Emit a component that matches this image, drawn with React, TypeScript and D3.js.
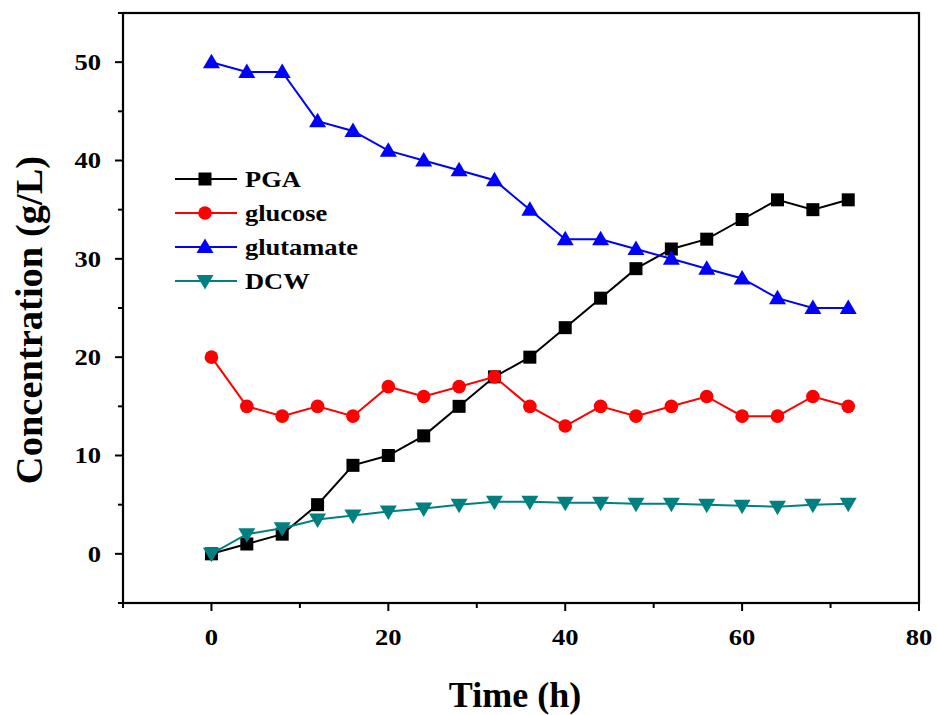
import React from "react";
import * as d3 from "d3";

const times = [0, 4, 8, 12, 16, 20, 24, 28, 32, 36, 40, 44, 48, 52, 56, 60, 64, 68, 72];
const pga = [0, 1, 2, 5, 9, 10, 12, 15, 18, 20, 23, 26, 29, 31, 32, 34, 36, 35, 36];
const glucose = [20, 15, 14, 15, 14, 17, 16, 17, 18, 15, 13, 15, 14, 15, 16, 14, 14, 16, 15];
const glutamate = [50, 49, 49, 44, 43, 41, 40, 39, 38, 35, 32, 32, 31, 30, 29, 28, 26, 25, 25];
const dcw = [0, 2, 2.6, 3.5, 3.9, 4.3, 4.6, 5.0, 5.3, 5.3, 5.2, 5.2, 5.1, 5.1, 5.0, 4.9, 4.8, 5.0, 5.1];

const xTicks = [0, 20, 40, 60, 80];
const xMinor = [-10, 10, 30, 50, 70];
const yTicks = [0, 10, 20, 30, 40, 50];
const yMinor = [-5, 5, 15, 25, 35, 45, 55];

const seriesNames = ["PGA", "glucose", "glutamate", "DCW"];
const seriesColors = ["#000000", "#ff0000", "#0000ff", "#008080"];
const seriesShapes = ["square", "circle", "triangle", "triangleDown"];
const seriesValues = [pga, glucose, glutamate, dcw];

const FONT = "'Liberation Serif', 'Times New Roman', serif";

function Marker({ shape, x, y, color }: { shape: string; x: number; y: number; color: string }) {
  if (shape === "square") return <rect x={x - 6.5} y={y - 6.5} width={13} height={13} fill={color} />;
  if (shape === "circle") return <circle cx={x} cy={y} r={6.8} fill={color} />;
  if (shape === "triangle")
    return <path d={`M${x},${y - 8.5}L${x + 8.5},${y + 6}L${x - 8.5},${y + 6}Z`} fill={color} />;
  return <path d={`M${x},${y + 8.5}L${x + 8.5},${y - 6}L${x - 8.5},${y - 6}Z`} fill={color} />;
}

function SText({ x, y, sx, anchor, size, children, dy }: any) {
  return (
    <text
      transform={`translate(${x},${y}) scale(${sx},1)`}
      textAnchor={anchor}
      dy={dy}
      fontFamily={FONT}
      fontWeight="bold"
      fontSize={size}
    >
      {children}
    </text>
  );
}

export default function App() {
  const W = 937, H = 715;
  const left = 123, right = 919, top = 13, bottom = 603;
  const x = d3.scaleLinear().domain([-10, 80]).range([left, right]);
  const y = d3.scaleLinear().domain([-5, 55]).range([bottom, top]);
  const line = d3.line<[number, number]>().x((d) => x(d[0])).y((d) => y(d[1]));

  return (
    <svg width={W} height={H} style={{ position: "absolute", left: 0, top: 0, background: "#fff" }}>
      <rect width={W} height={H} fill="#fff" />
      <rect x={left} y={top} width={right - left} height={bottom - top} fill="none" stroke="#000" strokeWidth={2.2} />
      {xTicks.map((t) => (
        <g key={"xt" + t}>
          <line x1={x(t)} x2={x(t)} y1={bottom} y2={bottom + 8} stroke="#000" strokeWidth={2} />
          <SText x={x(t)} y={645} sx={1.18} anchor="middle" size={22.5}>
            {t}
          </SText>
        </g>
      ))}
      {xMinor.map((t) => (
        <line key={"xm" + t} x1={x(t)} x2={x(t)} y1={bottom} y2={bottom + 5} stroke="#000" strokeWidth={2} />
      ))}
      {yTicks.map((t) => (
        <g key={"yt" + t}>
          <line x1={left - 8} x2={left} y1={y(t)} y2={y(t)} stroke="#000" strokeWidth={2} />
          <SText x={101} y={y(t)} sx={1.18} anchor="end" size={22.5} dy="0.35em">
            {t}
          </SText>
        </g>
      ))}
      {yMinor.map((t) => (
        <line key={"ym" + t} x1={left - 5} x2={left} y1={y(t)} y2={y(t)} stroke="#000" strokeWidth={2} />
      ))}
      <text x={515} y={707} textAnchor="middle" fontFamily={FONT} fontWeight="bold" fontSize={36}>
        Time (h)
      </text>
      <text
        transform={`translate(42,320) rotate(-90)`}
        textAnchor="middle"
        fontFamily={FONT}
        fontWeight="bold"
        fontSize={38.5}
      >
        Concentration (g/L)
      </text>
      {seriesValues.map((vals, i) => {
        const pts = times.map((t, j) => [t, vals[j]] as [number, number]);
        return (
          <g key={"s" + i}>
            <path d={line(pts) || ""} fill="none" stroke={seriesColors[i]} strokeWidth={2} />
            {pts.map((p, j) => (
              <Marker key={j} shape={seriesShapes[i]} x={x(p[0])} y={y(p[1])} color={seriesColors[i]} />
            ))}
          </g>
        );
      })}
      {seriesNames.map((n, i) => {
        const ly = 179 + i * 34;
        return (
          <g key={"l" + i}>
            <line x1={175} x2={237} y1={ly} y2={ly} stroke={seriesColors[i]} strokeWidth={2} />
            <Marker shape={seriesShapes[i]} x={205} y={ly} color={seriesColors[i]} />
            <SText x={245} y={ly} sx={1.15} anchor="start" size={23} dy="0.35em">
              {n}
            </SText>
          </g>
        );
      })}
    </svg>
  );
}
